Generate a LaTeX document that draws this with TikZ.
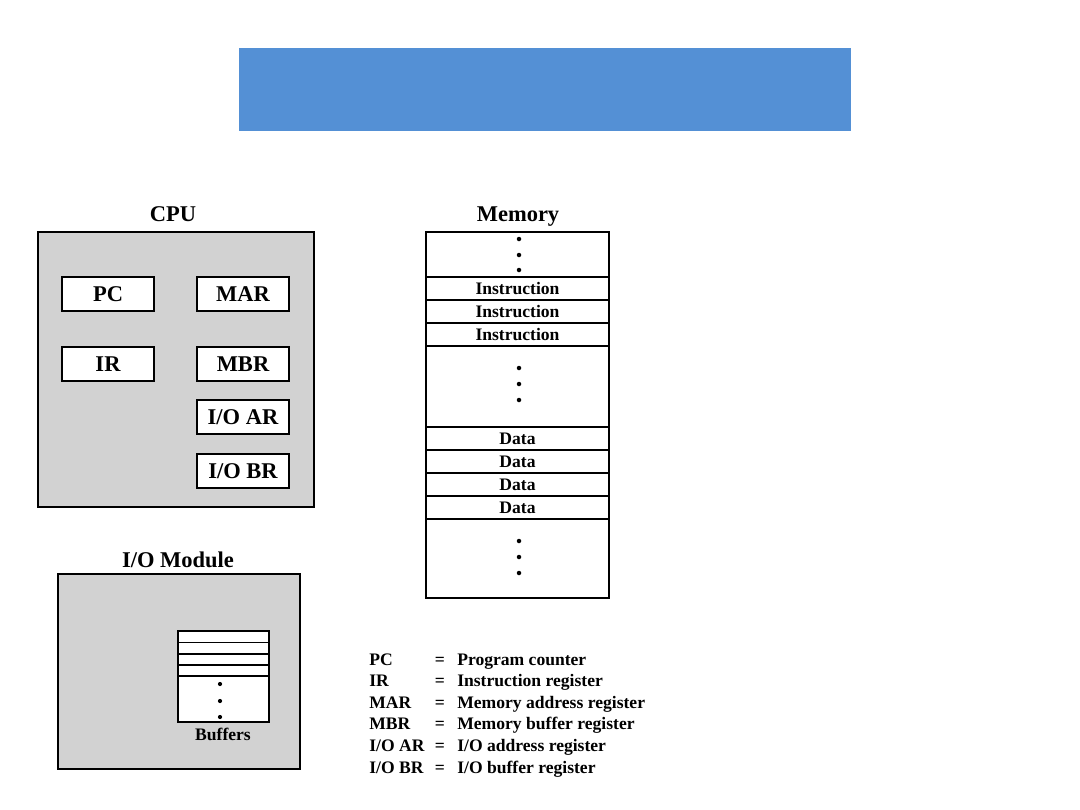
\documentclass[tikz,border=0pt]{standalone}
\usepackage{fontspec}
\setmainfont{Liberation Serif}
\usetikzlibrary{positioning}
\definecolor{bannerblue}{RGB}{84,144,213}
\definecolor{boxgray}{RGB}{210,210,210}

\begin{document}
\begin{tikzpicture}[x=0.025cm, y=-0.025cm,
    title/.style={font=\bfseries\fontsize{16}{19}\selectfont, anchor=base},
    reg/.style={draw, line width=0.9pt, fill=white, inner sep=0pt,
        minimum width=2.3cm, minimum height=0.85cm,
        font=\bfseries\fontsize{16}{19}\selectfont},
    cell/.style={draw, line width=1.1pt, fill=white, inner sep=0pt,
        minimum width=4.575cm, minimum height=0.575cm,
        font=\bfseries\fontsize{12.5}{15}\selectfont},
    legend/.style={font=\bfseries\fontsize{12.5}{15}\selectfont, inner sep=0pt}]
    \useasboundingbox (0,0) rectangle (1080,810);

    % Banner
    \fill[bannerblue] (239,48) rectangle (851,131);

    % CPU
    \node[title] (cputitle) at (173,221) {CPU};
    \draw[line width=1.5pt, fill=boxgray] (38,232) rectangle (314,507);
    \node[reg] (pc)   at (108,294) {PC};
    \node[reg] (mar)  at (243,294) {MAR};
    \node[reg] (ir)   at (108,364) {IR};
    \node[reg] (mbr)  at (243,364) {MBR};
    \node[reg] (ioar) at (243,417) {I/O AR};
    \node[reg] (iobr) at (243,471) {I/O BR};

    % Memory
    \node[title] (memtitle) at (518,221) {Memory};
    \draw[line width=1.1pt, fill=white] (426,232) rectangle (609,598);
    \foreach \y [count=\i] in {288.5,311.5,334.5}
        \node[cell] (instr\i) at (517.5,\y) {Instruction};
    \foreach \y [count=\i] in {438.5,461.5,484.5,507.5}
        \node[cell] (data\i) at (517.5,\y) {Data};
    \foreach \y in {239,255,270, 368,384,400, 541,557,573}
        \fill (519,\y) circle[radius=1.6pt];

    % I/O Module
    \node[title] (iotitle) at (178,567) {I/O Module};
    \draw[line width=1.5pt, fill=boxgray] (58,574) rectangle (300,769);
    \draw[line width=0.8pt, fill=white] (178,631) rectangle (269,722);
    \foreach \y in {642.5,654,665,676}
        \draw[line width=0.8pt] (178,\y) -- (269,\y);
    \foreach \y in {684,701,717}
        \fill (220,\y) circle[radius=1.5pt];
    \node[legend, anchor=base] (buffers) at (223,740) {Buffers};

    % Legend
    \foreach \abbr/\desc [count=\i] in {PC/{Program counter}, IR/{Instruction register},
        MAR/{Memory address register}, MBR/{Memory buffer register},
        {I/O AR}/{I/O address register}, {I/O BR}/{I/O buffer register}} {
        \node[legend, anchor=base west] (abbr\i) at (369,{665+(\i-1)*21.6}) {\abbr};
        \node[legend, anchor=base] (eq\i) at (440,{665+(\i-1)*21.6}) {=};
        \node[legend, anchor=base west] (desc\i) at (457,{665+(\i-1)*21.6}) {\desc};
    }
\end{tikzpicture}
\end{document}
